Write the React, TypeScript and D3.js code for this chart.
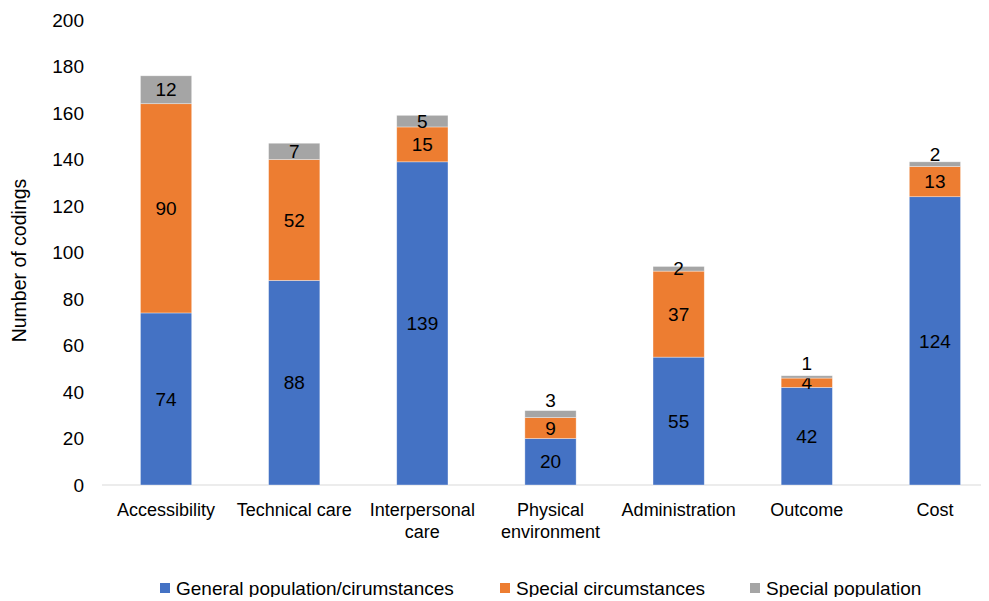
import React, { useEffect, useRef } from 'react';
import * as d3 from 'd3';

const categories = [
  ['Accessibility'],
  ['Technical care'],
  ['Interpersonal', 'care'],
  ['Physical', 'environment'],
  ['Administration'],
  ['Outcome'],
  ['Cost'],
];
const general = [74, 88, 139, 20, 55, 42, 124];
const specialCirc = [90, 52, 15, 9, 37, 4, 13];
const specialPop = [12, 7, 5, 3, 2, 1, 2];
const seriesNames = ['General population/cirumstances', 'Special circumstances', 'Special population'];
const yTicks = [0, 20, 40, 60, 80, 100, 120, 140, 160, 180, 200];

const colors = ['#4472C4', '#ED7D31', '#A5A5A5'];
// excel nudged a few of the tiny grey labels above the bar
const labelLift = [0, 0, 0, 14, 0, 14, 10];

const App = () => {
  const ref = useRef<SVGSVGElement>(null);

  useEffect(() => {
    const width = 989;
    const height = 601;
    const margin = { top: 20, left: 102, bottom: 116, right: -10 };
    const iwidth = width - margin.left - margin.right;
    const iheight = height - margin.top - margin.bottom;

    const svg = d3.select(ref.current);
    svg.selectAll('*').remove();
    svg.attr('width', width).attr('height', height);

    const font = 'Liberation Sans, Arial, sans-serif';
    const g = svg.append('g').attr('transform', `translate(${margin.left},${margin.top})`);

    const keys = categories.map((c) => c.join(' '));
    const x = d3.scaleBand().domain(keys).range([0, iwidth]).paddingInner(0.6).paddingOuter(0.3);
    const y = d3.scaleLinear().domain([0, 200]).range([iheight, 0]);

    const rows = keys.map((k, i) => ({ key: k, a: general[i], b: specialCirc[i], c: specialPop[i] }));
    const stack = d3.stack<any>().keys(['a', 'b', 'c'])(rows);

    // axis line
    g.append('line')
      .attr('x1', 0).attr('x2', iwidth)
      .attr('y1', y(0)).attr('y2', y(0))
      .attr('stroke', '#D9D9D9').attr('stroke-width', 1);

    stack.forEach((layer, si) => {
      g.append('g')
        .selectAll('rect')
        .data(layer)
        .enter()
        .append('rect')
        .attr('x', (d: any) => x(d.data.key)!)
        .attr('y', (d) => y(d[1]))
        .attr('width', x.bandwidth())
        .attr('height', (d) => y(d[0]) - y(d[1]))
        .attr('fill', colors[si])
        .attr('stroke', '#fff')
        .attr('stroke-opacity', 0.5)
        .attr('stroke-width', 0.7);

      g.append('g')
        .selectAll('text')
        .data(layer)
        .enter()
        .append('text')
        .attr('x', (d: any) => x(d.data.key)! + x.bandwidth() / 2)
        .attr('y', (d, i) => (y(d[0]) + y(d[1])) / 2 - (si === 2 ? labelLift[i] : 0))
        .attr('dy', '0.35em')
        .attr('text-anchor', 'middle')
        .style('font-family', font)
        .style('font-size', '19px')
        .attr('fill', '#000')
        .text((d) => d[1] - d[0]);
    });

    // y ticks
    g.append('g')
      .selectAll('text')
      .data(yTicks)
      .enter()
      .append('text')
      .attr('x', -18)
      .attr('y', (d) => y(d))
      .attr('dy', '0.35em')
      .attr('text-anchor', 'end')
      .style('font-family', font)
      .style('font-size', '19px')
      .attr('fill', '#000')
      .text((d) => d);

    // x labels
    const xl = g.append('g')
      .selectAll('text')
      .data(categories)
      .enter()
      .append('text')
      .attr('x', (d) => x(d.join(' '))! + x.bandwidth() / 2)
      .attr('y', y(0) + 31)
      .attr('text-anchor', 'middle')
      .style('font-family', font)
      .style('font-size', '18px')
      .attr('fill', '#000');
    xl.selectAll('tspan')
      .data((d) => d)
      .enter()
      .append('tspan')
      .attr('x', function () {
        return (this as any).parentNode.getAttribute('x');
      })
      .attr('dy', (d, i) => (i === 0 ? 0 : 22))
      .text((d) => d);

    svg.append('text')
      .attr('transform', `translate(26,${margin.top + iheight / 2 + 8}) rotate(-90)`)
      .attr('text-anchor', 'middle')
      .style('font-family', font)
      .style('font-size', '19.5px')
      .attr('fill', '#000')
      .text('Number of codings');

    // legend
    const legendX = [160, 500, 750];
    const lg = svg.append('g').attr('transform', 'translate(0,588)');
    seriesNames.forEach((name, i) => {
      lg.append('rect')
        .attr('x', legendX[i]).attr('y', -5)
        .attr('width', 10).attr('height', 10)
        .attr('fill', colors[i]);
      lg.append('text')
        .attr('x', legendX[i] + 16)
        .attr('y', 0)
        .attr('dy', '0.35em')
        .style('font-family', font)
        .style('font-size', '19px')
        .attr('fill', '#000')
        .text(name);
    });
  }, []);

  return (
    <div style={{ margin: -8 }}>
      <svg ref={ref}></svg>
    </div>
  );
};

export default App;
